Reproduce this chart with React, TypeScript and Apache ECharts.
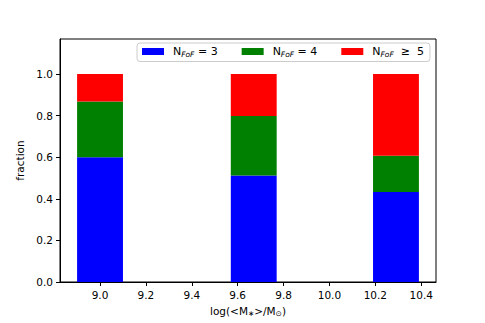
import React, { useEffect, useRef } from "react";
import * as echarts from "echarts";

const xPositions = [9.0, 9.67, 10.29];
const frac3 = [0.6, 0.512, 0.433];
const frac4 = [0.267, 0.286, 0.174];
const frac5 = [0.133, 0.202, 0.393];
const barWidthData = 0.2;
const xTicks = [9.0, 9.2, 9.4, 9.6, 9.8, 10.0, 10.2, 10.4];
const yTicks = [0, 0.2, 0.4, 0.6, 0.8, 1.0];
const xRange = [8.8255, 10.4645];
const yRange = [0, 1.168];

const seriesNames = ["n3", "n4", "n5"];
const legendLabels: Record<string, string> = {
  n3: "{n|N}{s|FoF}{n| = 3}",
  n4: "{n|N}{s|FoF}{n| = 4}",
  n5: "{n|N}{s|FoF}{n|  ≥  5}",
};
const colors = ["#0000ff", "#008000", "#ff0000"];

const FONT = "DejaVu Sans";

export default function App() {
  const ref = useRef<HTMLDivElement>(null);
  useEffect(() => {
    if (!ref.current) return;
    const chart = echarts.init(ref.current, null, { renderer: "svg" });
    const stacks = [frac3, frac4, frac5];
    const series = stacks.map((vals, si) => {
      const data = xPositions.map((x, i) => {
        let base = 0;
        for (let k = 0; k < si; k++) base += stacks[k][i];
        return [x, base, base + vals[i]];
      });
      return {
        type: "custom",
        name: seriesNames[si],
        itemStyle: { color: colors[si] },
        encode: { x: 0, y: [1, 2] },
        data,
        renderItem: (params: any, api: any) => {
          const x = api.value(0);
          const y0 = api.value(1);
          const y1 = api.value(2);
          const p0 = api.coord([x - barWidthData / 2, y1]);
          const p1 = api.coord([x + barWidthData / 2, y0]);
          return {
            type: "rect",
            shape: { x: p0[0], y: p0[1], width: p1[0] - p0[0], height: p1[1] - p0[1] },
            style: { fill: colors[si] },
          };
        },
      };
    });
    const richText = {
      n: { fontFamily: FONT, fontSize: 11, color: "#000", lineHeight: 14 },
      s: { fontFamily: FONT, fontSize: 7.5, fontStyle: "italic", color: "#000", lineHeight: 8, verticalAlign: "bottom" },
    };
    chart.setOption({
      animation: false,
      textStyle: { fontFamily: FONT },
      grid: {
        left: 60,
        right: 49,
        top: 39,
        bottom: 41,
        show: true,
        borderColor: "#000",
        borderWidth: 1,
        backgroundColor: "transparent",
      },
      legend: {
        data: seriesNames,
        left: 137,
        top: 43,
        width: 300,
        orient: "horizontal",
        icon: "rect",
        itemWidth: 22,
        itemHeight: 7,
        itemGap: 24,
        padding: [3, 6, 3, 5],
        borderColor: "#ccc",
        borderWidth: 1,
        borderRadius: 3,
        backgroundColor: "#fff",
        formatter: (name: string) => legendLabels[name],
        textStyle: { fontFamily: FONT, fontSize: 11, color: "#000", padding: [0, 0, 0, 4], rich: richText },
      },
      xAxis: {
        type: "value",
        min: xRange[0],
        max: xRange[1],
        splitLine: { show: false },
        axisLine: { show: true, lineStyle: { color: "#000", width: 1 } },
        axisTick: { show: true, length: 4, lineStyle: { color: "#000" }, customValues: xTicks },
        axisLabel: {
          customValues: xTicks,
          margin: 7,
          fontFamily: FONT,
          fontSize: 10.5,
          color: "#000",
          formatter: (v: number) => v.toFixed(1),
        },
        name: "{a|log(<M}{s|∗}{a|>/M}{s|⊙}{a|)}",
        nameLocation: "middle",
        nameGap: 22,
        nameTextStyle: {
          rich: {
            a: { fontFamily: FONT, fontSize: 10.5, color: "#000", lineHeight: 13 },
            s: { fontFamily: FONT, fontSize: 7.5, color: "#000", lineHeight: 7, verticalAlign: "bottom" },
          },
        },
      },
      yAxis: {
        type: "value",
        min: yRange[0],
        max: yRange[1],
        splitLine: { show: false },
        axisLine: { show: true, lineStyle: { color: "#000", width: 1 } },
        axisTick: { show: true, length: 4, lineStyle: { color: "#000" }, customValues: yTicks },
        axisLabel: {
          customValues: yTicks,
          margin: 7,
          fontFamily: FONT,
          fontSize: 10.5,
          color: "#000",
          formatter: (v: number) => v.toFixed(1),
        },
        name: "fraction",
        nameLocation: "middle",
        nameGap: 29,
        nameTextStyle: { fontFamily: FONT, fontSize: 10.5, color: "#000" },
      },
      series,
    } as any);
    return () => chart.dispose();
  }, []);
  return (
    <div
      ref={ref}
      style={{ position: "fixed", left: 0, top: 0, width: 485, height: 323, background: "#fff" }}
    />
  );
}
